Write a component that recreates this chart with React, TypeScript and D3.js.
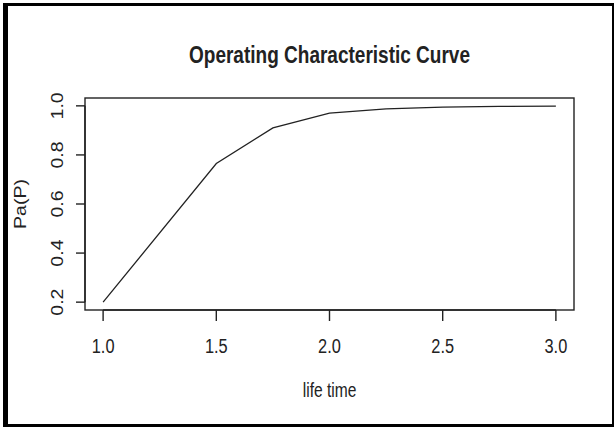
import React from "react";
import * as d3 from "d3";

// values
const lifeTime = [1.0, 1.5, 1.75, 2.0, 2.25, 2.5, 2.75, 3.0];
const paP = [0.2, 0.765, 0.91, 0.97, 0.988, 0.995, 0.998, 0.999];
const xTicks = [1.0, 1.5, 2.0, 2.5, 3.0];
const yTicks = [0.2, 0.4, 0.6, 0.8, 1.0];

const W = 614;
const H = 427;
const margin = { top: 98, right: 40, bottom: 117, left: 85 };
const ink = "#222";
const font = "'Liberation Sans', Arial, sans-serif";
const squeeze = 0.84; // text in the picture is a bit narrow

export default function App() {
  // R style 4% padding around the data range
  const xPad = (3 - 1) * 0.04;
  const yPad = (1 - 0.2) * 0.04;
  const x = d3.scaleLinear().domain([1 - xPad, 3 + xPad]).range([margin.left, W - margin.right]);
  const y = d3.scaleLinear().domain([0.2 - yPad, 1 + yPad]).range([H - margin.bottom, margin.top]);

  const line = d3.line<number>()
    .x((d, i) => x(lifeTime[i]))
    .y(d => y(d));

  const plotBottom = H - margin.bottom;
  const plotMidX = (margin.left + W - margin.right) / 2;
  const plotMidY = (margin.top + plotBottom) / 2;

  return (
    <svg width={W} height={H} style={{ position: "absolute", left: 0, top: 0, background: "#fff" }}
      fontFamily={font}>
      {/* outer frame */}
      <rect x={3} y={3} width={W - 3} height={3} fill="#000" />
      <rect x={3} y={3} width={5} height={H - 3} fill="#000" />
      <rect x={3} y={H - 3} width={W - 3} height={3} fill="#000" />
      <rect x={W - 2} y={3} width={2} height={H - 3} fill="#000" />

      {/* title */}
      <text x={plotMidX} y={63} textAnchor="middle" fontSize={23} fontWeight="bold" fill={ink}
        textLength={281} lengthAdjust="spacingAndGlyphs">
        Operating Characteristic Curve
      </text>

      {/* plot box */}
      <rect x={margin.left} y={margin.top} width={W - margin.left - margin.right}
        height={plotBottom - margin.top} fill="none" stroke={ink} strokeWidth={1.4} />

      {/* x axis */}
      <line x1={x(xTicks[0])} x2={x(xTicks[xTicks.length - 1])} y1={plotBottom} y2={plotBottom}
        stroke={ink} strokeWidth={1.4} />
      {xTicks.map(t => (
        <g key={"x" + t}>
          <line x1={x(t)} x2={x(t)} y1={plotBottom} y2={plotBottom + 11} stroke={ink} strokeWidth={1.4} />
          <text transform={`translate(${x(t)},353) scale(${squeeze},1)`} textAnchor="middle"
            fontSize={19.5} fill={ink}>{d3.format(".1f")(t)}</text>
        </g>
      ))}
      <text transform={`translate(${plotMidX},397) scale(${squeeze * 0.95},1)`} textAnchor="middle"
        fontSize={19.5} fill={ink}>life time</text>

      {/* y axis */}
      <line x1={margin.left} x2={margin.left} y1={y(yTicks[0])} y2={y(yTicks[yTicks.length - 1])}
        stroke={ink} strokeWidth={1.4} />
      {yTicks.map(t => (
        <g key={"y" + t}>
          <line x1={margin.left - 9} x2={margin.left} y1={y(t)} y2={y(t)} stroke={ink} strokeWidth={1.4} />
          <text transform={`translate(63,${y(t)}) scale(${squeeze},1) rotate(-90)`} textAnchor="middle"
            fontSize={19.5} fill={ink}>{d3.format(".1f")(t)}</text>
        </g>
      ))}
      <text transform={`translate(26,${plotMidY}) scale(${squeeze},1) rotate(-90)`} textAnchor="middle"
        fontSize={19.5} fill={ink}>Pa(P)</text>

      {/* OC curve */}
      <path d={line(paP) || ""} fill="none" stroke={ink} strokeWidth={1.3} />
    </svg>
  );
}
